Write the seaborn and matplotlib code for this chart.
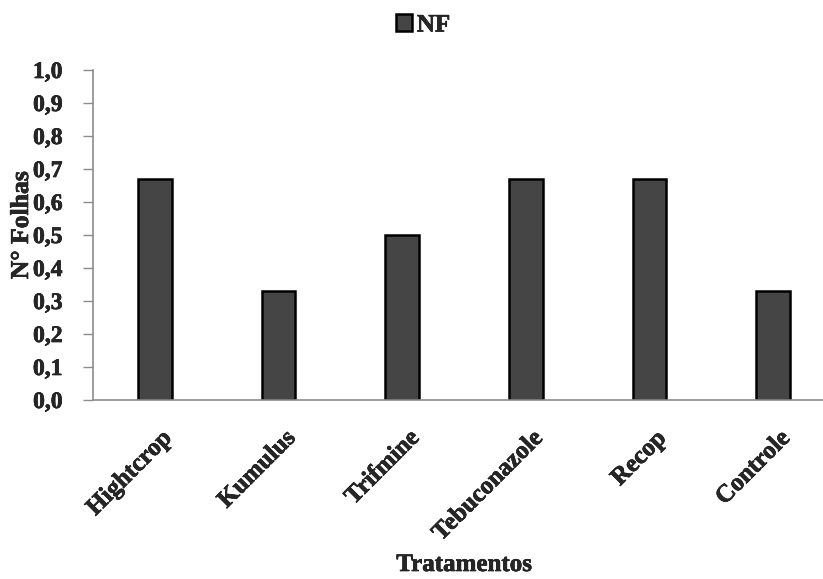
import matplotlib
matplotlib.use("Agg")
import matplotlib.pyplot as plt
import matplotlib.transforms as mtransforms
import matplotlib.patheffects as pe
import seaborn as sns
import pandas as pd

categories = ["Hightcrop", "Kumulus", "Trifmine", "Tebuconazole", "Recop", "Controle"]
nf_values = [0.67, 0.33, 0.50, 0.67, 0.67, 0.33]
y_ticks = [0.0, 0.1, 0.2, 0.3, 0.4, 0.5, 0.6, 0.7, 0.8, 0.9, 1.0]

sns.set_theme(style="white")
plt.rcParams['font.family'] = ['Liberation Serif', 'DejaVu Serif']
plt.rcParams['font.weight'] = 'bold'

heavy = [pe.withStroke(linewidth=0.45, foreground='black')]

df = pd.DataFrame({"Tratamentos": categories, "NF": nf_values})

fig = plt.figure(figsize=(8.23, 5.79), dpi=100)
ax = fig.add_axes([93/823, (579-400)/579, (835-93)/823, 330/579])

sns.barplot(data=df, x="Tratamentos", y="NF", ax=ax, color="#454545",
            width=0.27, edgecolor="black", linewidth=1.8, label="NF",
            saturation=1)

ax.set_xlim(-0.5, 5.5)
ax.set_ylim(0, 1.0)
ax.set_yticks(y_ticks)
ax.set_yticklabels([f"{v:.1f}".replace(".", ",") for v in y_ticks],
                   fontsize=17, fontweight='bold')
ax.set_xticks(range(len(categories)))
ax.set_xticklabels(categories, rotation=45, ha='right', va='top',
                   rotation_mode='anchor', fontsize=18, fontweight='bold')
ax.tick_params(axis='y', direction='out', length=7, width=1, color='#8c8c8c',
               left=True, pad=15)
ax.tick_params(axis='x', length=0, pad=19)

shift = mtransforms.ScaledTranslation(5/100, 0, fig.dpi_scale_trans)
for lbl in ax.get_xticklabels():
    lbl.set_transform(lbl.get_transform() + shift)
    lbl.set_path_effects(heavy)
for lbl in ax.get_yticklabels():
    lbl.set_path_effects(heavy)

for s in ['top', 'right']:
    ax.spines[s].set_visible(False)
for s in ['left', 'bottom']:
    ax.spines[s].set_color('#8c8c8c')
    ax.spines[s].set_linewidth(1.2)
ax.spines['left'].set_bounds(0, 1.0)

xl = ax.set_xlabel("Tratamentos", fontsize=18, fontweight='bold')
yl = ax.set_ylabel("N° Folhas", fontsize=18.5, fontweight='bold')
ax.xaxis.set_label_coords((464 - 93) / 742, (400 - 553) / 330)
ax.yaxis.set_label_coords((33 - 93) / 742, (400 - 225) / 330)
xl.set_path_effects(heavy)
yl.set_path_effects(heavy)

leg = ax.legend(loc='center', bbox_to_anchor=(423/823, 1 - 25/579),
                bbox_transform=fig.transFigure, frameon=False,
                prop={'family': 'Liberation Serif', 'weight': 'bold', 'size': 18},
                handlelength=0.65, handleheight=0.65, handletextpad=0.2)
for t in leg.get_texts():
    t.set_path_effects(heavy)

fig.savefig("out.png", dpi=100)
